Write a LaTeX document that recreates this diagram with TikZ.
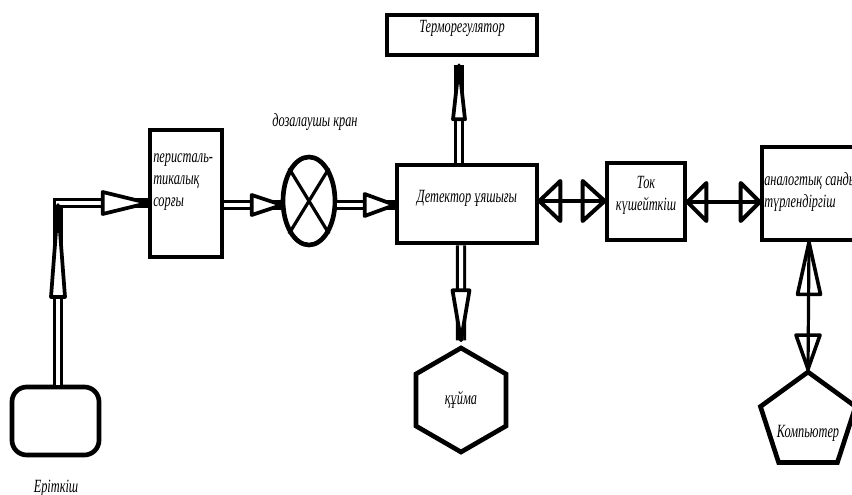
\documentclass[tikz,border=0pt]{standalone}
\usepackage{fontspec}
\setmainfont{Liberation Serif}[FakeStretch=0.66]
\usetikzlibrary{shapes.geometric,fit,calc}
\begin{document}
\begin{tikzpicture}[x=0.75pt,y=-0.75pt,
  box/.style={draw, line width=3.5pt, inner sep=0pt},
  txt/.style={font=\itshape\fontsize{14}{16.5}\selectfont, inner sep=0pt},
  dbl/.style={draw, double, double distance=3pt, line width=2.4pt},
  bar/.style={draw, line width=3.2pt},
  head/.style={draw, fill=white, line width=2.8pt, line join=round},
  ohead/.style={draw, line width=3pt, line join=round}]
\clip (0,0) rectangle (852,495);
% nodes
\node[box, rounded corners=11pt, fit={(12,387) (99,455)}] (erit) {};
\node[txt] (eritlbl) at (56,488) {Еріткіш};
\node[box, fit={(150,130) (222,257)}] (pump) {};
\node[txt, anchor=north west, align=left] (pumptxt) at (153,153) {перисталь-\\тикалық\\сорғы};
\node[draw, ellipse, line width=3.5pt, minimum width=39pt, minimum height=66pt, inner sep=0pt] (valve) at (309,201) {};
\draw[line width=2.4pt] (valve.north west) -- (valve.south east) (valve.north east) -- (valve.south west);
\node[txt] (valvelbl) at (315,122) {дозалаушы кран};
\node[box, txt, fit={(397,165) (537,243)}] (det) {Детектор ұяшығы};
\node[box, txt, fit={(387,15) (537,55)}] (thermo) {Терморегулятор};
\node[box, txt, regular polygon, regular polygon sides=6, shape border rotate=30, minimum size=78pt] (hex) at (461,400) {құйма};
\node[box, txt, align=center, fit={(607,163) (685,240)}] (tok) {Ток\\күшейткіш};
\node[box, fit={(762,147) (880,240)}] (adc) {};
\node[txt, anchor=west, align=left] (adctxt) at (764,192) {аналогтық сандық\\түрлендіргіш};
\node[box, regular polygon, regular polygon sides=5, minimum size=75pt] (comp) at (808,422) {};
\node[txt] (complbl) at (808,433) {Компьютер};
% arrow 1: solvent -> pump
\coordinate (c1) at (58,203);
\draw[dbl] (erit.north -| c1) -- (c1) -- (pump.west |- c1);
\draw[head] ($(c1)+(0,2)$) -- ++(-7,92) -- ++(14,0) -- cycle;
\draw[head] (pump.west |- c1) -- ++(-45,-11) -- ++(0,22) -- cycle;
% arrow 2: pump -> valve
\coordinate (f2) at (0,205);
\draw[dbl] (pump.east |- f2) -- (valve.west |- f2);
\draw[head] ($(valve.west |- f2)+(1,0)$) -- ++(-30,-10) -- ++(0,20) -- cycle;
% arrow 3: valve -> detector
\draw[dbl] (valve.east |- f2) -- (det.west |- f2);
\draw[head] (det.west |- f2) -- ++(-30,-11) -- ++(0,22) -- cycle;
% arrow 4: detector -> thermoregulator
\coordinate (x4) at (459,0);
\coordinate (t4) at ($(thermo.south -| x4)+(0,8)$);
\draw[dbl] (det.north -| x4) -- (t4);
\draw[head] (t4) -- ++(-6,54) -- ++(12,0) -- cycle;
% arrow 5: detector -> hexagon
\coordinate (x5) at (461,0);
\coordinate (t5) at ($(hex.north)+(0,-5)$);
\draw[dbl] (det.south -| x5) -- (t5);
\draw[head] (t5) -- ++(-8.5,-50) -- ++(17,0) -- cycle;
% arrow 6: detector <-> current amplifier
\coordinate (f6) at (0,201);
\draw[bar] (det.east |- f6) -- (tok.west |- f6);
\draw[ohead] (det.east |- f6) -- ++(21,-20) -- ++(0,40) -- cycle;
\draw[ohead] (tok.west |- f6) -- ++(-22,-20) -- ++(0,40) -- cycle;
% arrow 7: amplifier <-> ADC
\coordinate (f7) at (0,202);
\draw[bar] (tok.east |- f7) -- (adc.west |- f7);
\draw[ohead] (tok.east |- f7) -- ++(19,-19) -- ++(0,38) -- cycle;
\draw[ohead] (adc.west |- f7) -- ++(-19,-19) -- ++(0,38) -- cycle;
% arrow 8: ADC <-> computer
\coordinate (x8) at (809,0);
\draw[bar, line width=2.4pt] (adc.south -| x8) -- (comp.north);
\draw[ohead, line width=2.7pt] (adc.south -| x8) -- ++(-11.5,52) -- ++(23,0) -- cycle;
\draw[ohead, line width=2.7pt] (comp.north) -- ++(-12,-34) -- ++(24,0) -- cycle;
\end{tikzpicture}
\end{document}
